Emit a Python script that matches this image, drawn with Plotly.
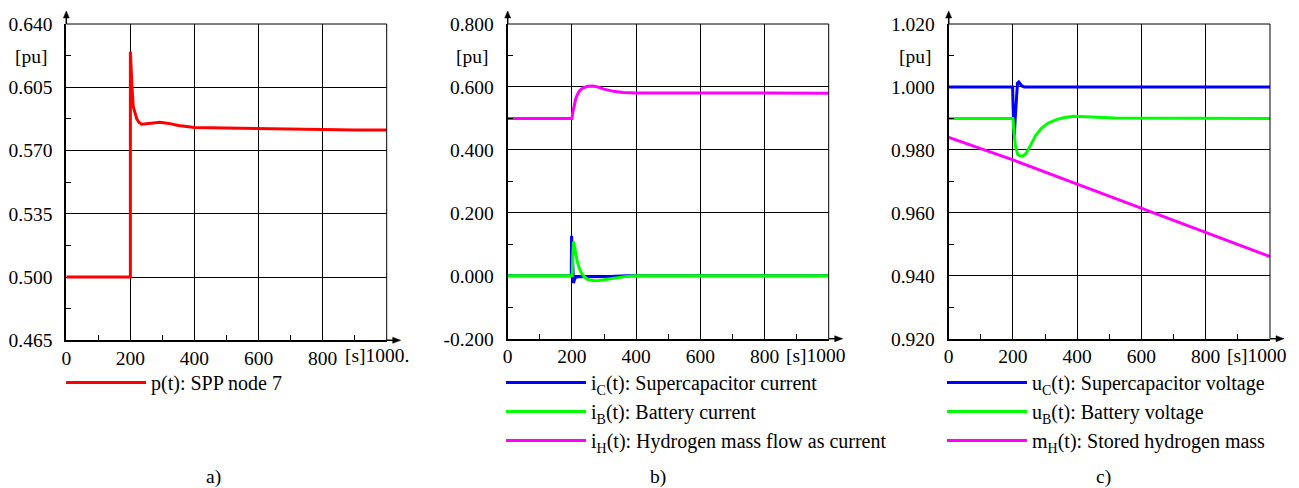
import plotly.graph_objects as go

# ---------------- data ----------------
# panel a) p(t): SPP node 7
t_p = [0, 200, 200, 202, 205, 209, 214, 220, 227, 235, 250, 270, 292, 320, 350, 400, 500, 600, 700, 800, 900, 1000]
p_t = [0.5, 0.5, 0.6247, 0.615, 0.6053, 0.5942, 0.5905, 0.5875, 0.5855, 0.5845, 0.5848, 0.5853, 0.5856, 0.5850,
       0.5838, 0.5828, 0.5824, 0.5821, 0.5819, 0.5816, 0.5814, 0.5813]

# panel b) currents
t_iC = [0, 198, 199, 201, 203, 205, 208, 212, 220, 260, 320, 370, 1000]
i_C = [0, 0, 0.127, 0.06, -0.01, -0.023, -0.012, -0.004, -0.003, -0.003, -0.002, 0, 0]
t_iB = [0, 201, 203, 205, 208, 212, 216, 221, 228, 238, 250, 267, 285, 310, 340, 370, 400, 1000]
i_B = [0, 0, 0.07, 0.109, 0.095, 0.07, 0.048, 0.03, 0.012, -0.003, -0.012, -0.016, -0.015, -0.011, -0.006,
       -0.002, 0, 0]
t_iH = [0, 200, 203, 207, 212, 218, 225, 235, 250, 265, 280, 300, 330, 360, 400, 500, 600, 700, 800, 900, 1000]
i_H = [0.5, 0.5, 0.52, 0.545, 0.563, 0.578, 0.589, 0.597, 0.602, 0.603, 0.600, 0.593, 0.586, 0.582, 0.581,
       0.581, 0.581, 0.580, 0.580, 0.580, 0.580]

# panel c) voltages and hydrogen mass
t_uC = [0, 199, 200, 202, 204, 207, 210, 214, 218, 222, 228, 235, 1000]
u_C = [1.0, 1.0, 0.995, 0.985, 0.984, 0.99, 0.997, 1.0012, 1.0016, 1.001, 1.0003, 1.0, 1.0]
t_uB = [0, 200, 203, 208, 215, 222, 230, 240, 255, 270, 290, 310, 335, 360, 390, 420, 460, 520, 1000]
u_B = [0.99, 0.99, 0.986, 0.981, 0.9785, 0.9781, 0.978, 0.9788, 0.9815, 0.9845, 0.9870, 0.9885, 0.9896, 0.9903,
       0.9907, 0.9906, 0.9903, 0.9901, 0.990]
t_mH = [0, 200, 400, 600, 800, 1000]
m_H = [0.9840, 0.9768, 0.9691, 0.9614, 0.9537, 0.9461]

# ticks
x_ticks = [0, 200, 400, 600, 800]
x_ticktext = ["0", "200", "400", "600", "800"]
x_minor = [100, 300, 500, 700, 900]
ya_ticks = [0.465, 0.500, 0.535, 0.570, 0.605, 0.640]
ya_text = ["0.465", "0.500", "0.535", "0.570", "0.605", "0.640"]
ya_minor = [0.4825, 0.5175, 0.5525, 0.5875, 0.6225]
yb_ticks = [-0.2, 0.0, 0.2, 0.4, 0.6, 0.8]
yb_text = ["-0.200", "0.000", "0.200", "0.400", "0.600", "0.800"]
yb_minor = [-0.1, 0.1, 0.3, 0.5, 0.7]
yc_ticks = [0.92, 0.94, 0.96, 0.98, 1.00, 1.02]
yc_text = ["0.920", "0.940", "0.960", "0.980", "1.000", "1.020"]
yc_minor = [0.93, 0.95, 0.97, 0.99, 1.01]

names_a = ["p(t): SPP node 7"]
names_b = ["i<sub>C</sub>(t): Supercapacitor current", "i<sub>B</sub>(t): Battery current",
           "i<sub>H</sub>(t): Hydrogen mass flow as current"]
names_c = ["u<sub>C</sub>(t): Supercapacitor voltage", "u<sub>B</sub>(t): Battery voltage",
           "m<sub>H</sub>(t): Stored hydrogen mass"]
panel_labels = ["a)", "b)", "c)"]

RED, BLUE, GREEN, MAG = "#ff0000", "#0000ff", "#00ff00", "#ff00ff"
FONT = "Liberation Serif"
FS = 19.5
FS_LEG = 20

# page body has an 8px margin: the figure is drawn at (8, 8) in the window
OFF = 8
W, H = 1299 - OFF, 488 - OFF


def fx(sx):
    return (sx - OFF) / W


def fy(sy):
    return 1 - (sy - OFF) / H


fig = go.Figure()


def add(x, y, color, name, xa, ya, leg, grp):
    fig.add_trace(go.Scatter(x=x, y=y, mode="lines", line=dict(color=color, width=3), name=name,
                             xaxis=xa, yaxis=ya, legend=leg, legendgroup=grp))


add(t_p, p_t, RED, names_a[0], "x", "y", "legend", "a1")
add(t_iC, i_C, BLUE, names_b[0], "x2", "y2", "legend2", "b1")
add(t_iB, i_B, GREEN, names_b[1], "x2", "y2", "legend2", "b2")
add(t_iH, i_H, MAG, names_b[2], "x2", "y2", "legend2", "b3")
add(t_uC, u_C, BLUE, names_c[0], "x3", "y3", "legend3", "c1")
add(t_uB, u_B, GREEN, names_c[1], "x3", "y3", "legend3", "c2")
add(t_mH, m_H, MAG, names_c[2], "x3", "y3", "legend3", "c3")

# window-pixel geometry of the three plot areas
xdoms = [(66.3, 386.7), (507.7, 828.7), (948.7, 1270.0)]
ydoms = [(24, 340.3), (24, 338.7), (24, 338.7)]
yranges = [(0.465, 0.640), (-0.2, 0.8), (0.92, 1.02)]
yticks = [(ya_ticks, ya_text, ya_minor), (yb_ticks, yb_text, yb_minor), (yc_ticks, yc_text, yc_minor)]

layout = dict(width=W, height=H, margin=dict(l=0, r=0, t=0, b=0, autoexpand=False), paper_bgcolor="white",
              plot_bgcolor="white", font=dict(family=FONT, size=FS, color="black"), shapes=[], annotations=[])

s1000 = ["[s]1000.", "[s]1000", "[s]1000"]
s_cx = [376.5, 816, 1257]
label_cx = [213, 658, 1103]
pu_cx = [31.5, 472.5, 915]
BLK = dict(color="black", width=1)
ARW = dict(color="black", width=1.5)

for i in range(3):
    sx = "" if i == 0 else str(i + 1)
    x0, x1 = xdoms[i]
    yt, yb = ydoms[i]
    layout["xaxis" + sx] = dict(domain=[fx(x0), fx(x1)], range=[0, 1000], anchor="y" + sx,
                                tickmode="array", tickvals=x_ticks, ticktext=x_ticktext, ticks="",
                                showgrid=True, gridcolor="black", gridwidth=1, zeroline=False,
                                showline=True, linecolor="black", linewidth=2, fixedrange=True,
                                automargin=False,
                                tickfont=dict(family=FONT, size=FS), ticklabelstandoff=-1,
                                minor=dict(tickmode="array", tickvals=x_minor, ticks="inside", ticklen=5,
                                           tickwidth=1, tickcolor="black", showgrid=False))
    tv, tt, tm = yticks[i]
    layout["yaxis" + sx] = dict(domain=[fy(yb), fy(yt)], range=list(yranges[i]), anchor="x" + sx,
                                tickmode="array", tickvals=tv, ticktext=tt, ticks="",
                                showgrid=True, gridcolor="black", gridwidth=1, zeroline=False,
                                showline=True, linecolor="black", linewidth=2, fixedrange=True,
                                automargin=False,
                                tickfont=dict(family=FONT, size=FS), ticklabelstandoff=8,
                                minor=dict(tickmode="array", tickvals=tm, ticks="inside", ticklen=5,
                                           tickwidth=1, tickcolor="black", showgrid=False))
    xd, yd = "x" + sx + " domain", "y" + sx + " domain"
    layout["shapes"] += [
        # top and right frame lines
        dict(type="line", xref=xd, yref=yd, x0=0, x1=1, y0=1, y1=1, line=BLK),
        dict(type="line", xref=xd, yref=yd, x0=1, x1=1, y0=0, y1=1, line=BLK),
        # y-axis arrow (shaft + head), in pixels above the top-left corner
        dict(type="line", xref=xd, yref=yd, x0=0, x1=0, ysizemode="pixel", yanchor=1, y0=0, y1=7, line=ARW),
        dict(type="path", xref=xd, yref=yd, xsizemode="pixel", xanchor=0, ysizemode="pixel", yanchor=1,
             path="M-3,6 L3,6 L0,13 Z", fillcolor="black", line=dict(color="black", width=0.5)),
        # x-axis arrow (shaft + head), in pixels right of the bottom-right corner
        dict(type="line", xref=xd, yref=yd, xsizemode="pixel", xanchor=1, x0=0, x1=7, y0=0, y1=0, line=ARW),
        dict(type="path", xref=xd, yref=yd, xsizemode="pixel", xanchor=1, ysizemode="pixel", yanchor=0,
             path="M6,-3 L6,3 L14,0 Z", fillcolor="black", line=dict(color="black", width=0.5)),
    ]
    layout["annotations"] += [
        dict(xref="paper", yref="paper", x=fx(s_cx[i]), y=fy(355), text=s1000[i],
             showarrow=False, xanchor="center", yanchor="middle", font=dict(family=FONT, size=FS)),
        dict(xref="paper", yref="paper", x=fx(pu_cx[i]), y=fy(57), text="[pu]", showarrow=False,
             xanchor="center", yanchor="middle", font=dict(family=FONT, size=FS)),
        dict(xref="paper", yref="paper", x=fx(label_cx[i]), y=fy(477), text=panel_labels[i],
             showarrow=False, xanchor="center", yanchor="middle", font=dict(family=FONT, size=FS)),
    ]

leg_x = [61, 501, 942]
for i, ln in enumerate(["legend", "legend2", "legend3"]):
    layout[ln] = dict(x=fx(leg_x[i]), y=fy(363), xanchor="left", yanchor="top", bgcolor="rgba(0,0,0,0)",
                      borderwidth=0, font=dict(family=FONT, size=FS_LEG), itemwidth=80,
                      tracegroupgap=2, traceorder="normal", itemclick=False, itemdoubleclick=False)
layout["showlegend"] = True

fig.update_layout(**layout)
fig.write_html("out.html")
